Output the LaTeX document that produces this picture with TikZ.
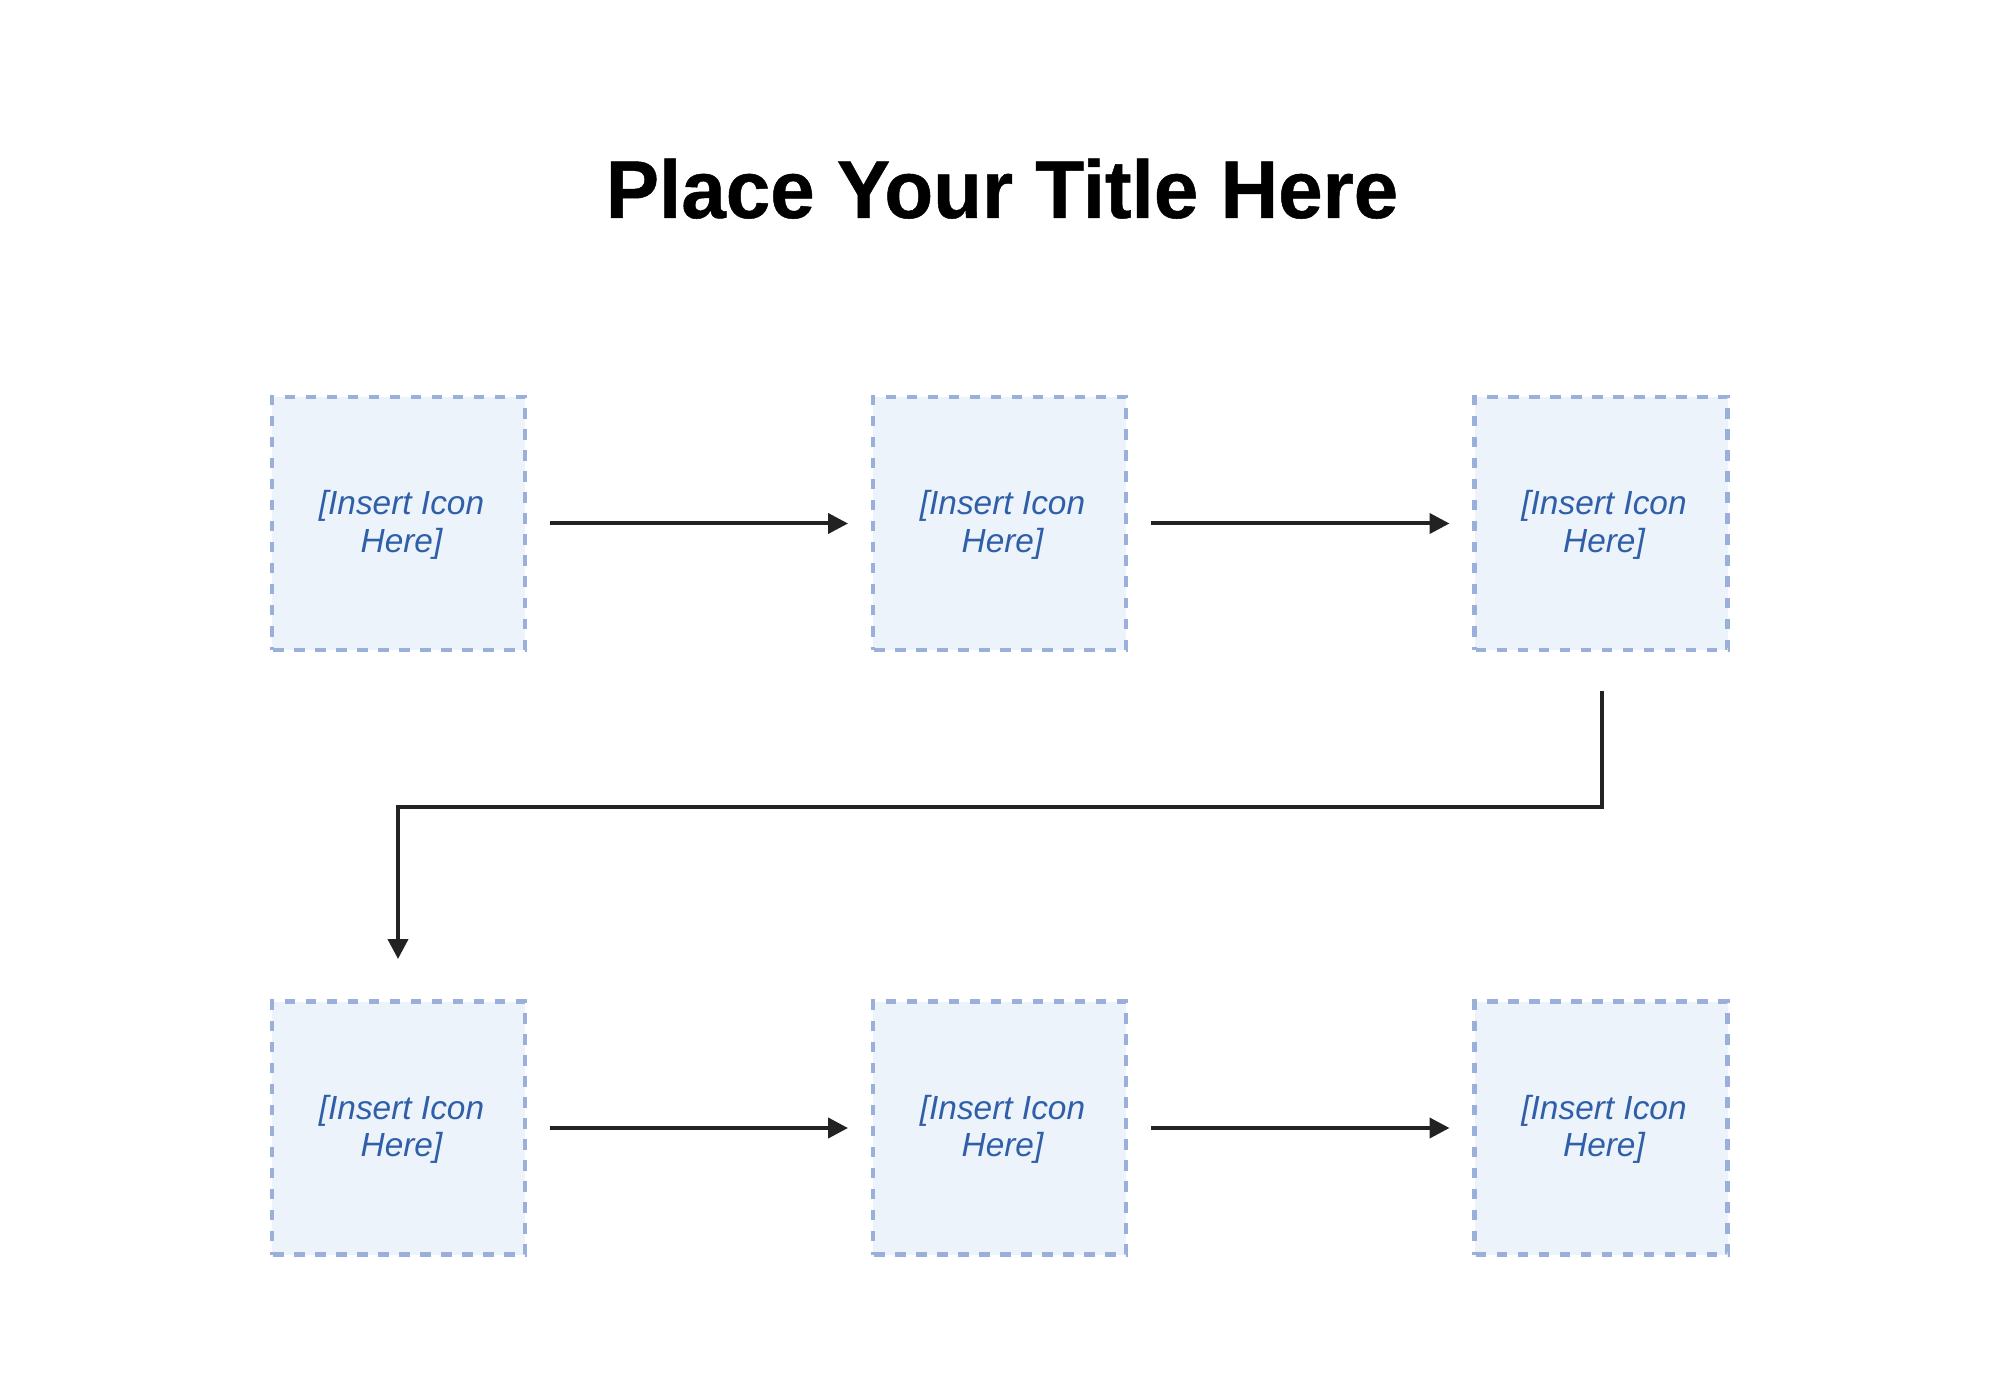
\documentclass[tikz,border=0pt]{standalone}
\usepackage{fontspec}
\setmainfont{Liberation Sans}
\newfontfamily\titlefont[FakeStretch=0.975,FakeBold=0.6]{Liberation Sans Bold}
\usetikzlibrary{arrows.meta}
\definecolor{boxfill}{HTML}{EDF3FB}
\definecolor{boxline}{HTML}{9AAFD9}
\definecolor{icontext}{HTML}{2F5FA8}
\definecolor{linkcol}{HTML}{222222}
\newcommand{\iconlabel}{\rule{0pt}{13.5pt}\hspace*{3pt}[Insert Icon\\\hspace*{3pt}Here]}
\tikzset{
  iconbox/.style={draw=boxline,fill=boxfill,line width=2.1pt,dash pattern=on 5.25pt off 5.25pt,dash phase=10pt,
    minimum width=126.5pt,minimum height=126.5pt,outer sep=0pt,inner sep=0pt,
    text=icontext,align=center,font=\fontsize{16.7pt}{18.6pt}\selectfont\itshape},
  link/.style={draw=linkcol,line width=2pt,-{Triangle[length=10pt,width=10pt]}},
  gapped/.style={shorten <=12.5pt,shorten >=12.5pt},
  titletext/.style={font=\fontsize{41pt}{45pt}\titlefont,text=black,anchor=base,inner sep=0pt}
}
\begin{document}
\begin{tikzpicture}[x=0.5pt,y=-0.5pt]
\useasboundingbox (0,0) rectangle (2000,1400);
\fill[white] (0,0) rectangle (2000,1400);
\node[titletext] (title) at (1002,218) {Place Your Title Here};
\node[iconbox] (a1) at (398.5,523.5) {\iconlabel};
\node[iconbox] (a2) at (999.5,523.5) {\iconlabel};
\node[iconbox] (a3) at (1601,523.5) {\iconlabel};
\node[iconbox] (b1) at (398.5,1128) {\iconlabel};
\node[iconbox] (b2) at (999.5,1128) {\iconlabel};
\node[iconbox] (b3) at (1601,1128) {\iconlabel};
\draw[link,gapped] (a1) -- (a2);
\draw[link,gapped] (a2) -- (a3);
\draw[link,gapped] (b1) -- (b2);
\draw[link,gapped] (b2) -- (b3);
\draw[link,shorten <=20.5pt,shorten >=21.25pt] ([xshift=0.5pt]a3.south) -- ++(0,157) -| ([xshift=-0.25pt]b1.north);
\end{tikzpicture}
\end{document}
